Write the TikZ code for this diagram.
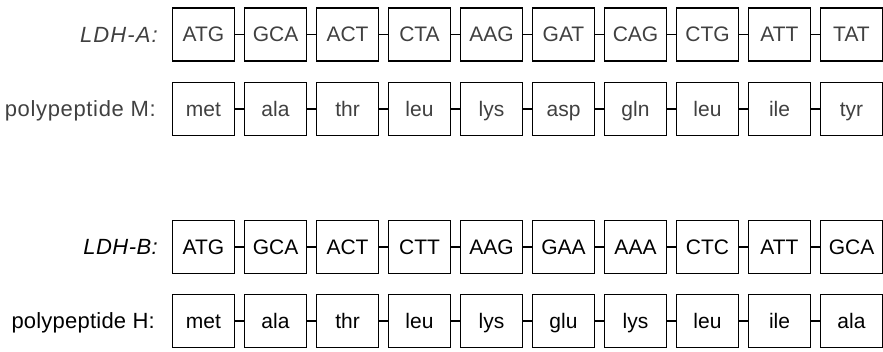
\documentclass[tikz,border=0pt]{standalone}
\usepackage{fontspec}
\setmainfont{Liberation Sans}
\newfontfamily\lblA[LetterSpace=5]{Liberation Sans}
\newfontfamily\lblM[LetterSpace=3]{Liberation Sans}
\newfontfamily\lblB[LetterSpace=2]{Liberation Sans}
\newfontfamily\lblH[LetterSpace=1]{Liberation Sans}
\begin{document}
\begin{tikzpicture}[x=1pt,y=-1pt,
  codon/.style={draw, line width=1.1pt, minimum width=62pt, minimum height=53pt,
    inner sep=0pt, text height=15pt, text depth=0pt, font=\fontsize{21}{25}\selectfont},
  lighttext/.style={text=black!75},
  lbl/.style={anchor=base east, inner sep=0pt},
  link/.style={line width=1.1pt}]
\useasboundingbox (0,0) rectangle (883,352);
% labels
\node[lbl, lighttext, font=\lblA\fontsize{22}{26}\selectfont] (la) at (158,43) {\itshape LDH-A:};
\node[lbl, lighttext, font=\lblM\fontsize{22}{26}\selectfont] (lm) at (156,117) {polypeptide M:};
\node[lbl, font=\lblB\fontsize{22}{26}\selectfont] (lb) at (158,255) {\itshape LDH-B:};
\node[lbl, font=\lblH\fontsize{22}{26}\selectfont] (lh) at (155,329) {polypeptide H:};
% rows
\foreach \t [count=\i] in {ATG,GCA,ACT,CTA,AAG,GAT,CAG,CTG,ATT,TAT}
  \node[codon, lighttext] (a\i) at ({203.5+72*(\i-1)},34.5) {\t};
\foreach \t [count=\i] in {met,ala,thr,leu,lys,asp,gln,leu,ile,tyr}
  \node[codon, lighttext] (m\i) at ({203.5+72*(\i-1)},109) {\t};
\foreach \t [count=\i] in {ATG,GCA,ACT,CTT,AAG,GAA,AAA,CTC,ATT,GCA}
  \node[codon] (b\i) at ({203.5+72*(\i-1)},247) {\t};
\foreach \t [count=\i] in {met,ala,thr,leu,lys,glu,lys,leu,ile,ala}
  \node[codon] (h\i) at ({203.5+72*(\i-1)},321) {\t};
% connectors
\foreach \i [evaluate=\i as \j using {int(\i+1)}] in {1,...,9} {
  \draw[link] (a\i) -- (a\j);
  \draw[link] (m\i) -- (m\j);
  \draw[link] (b\i) -- (b\j);
  \draw[link] (h\i) -- (h\j);
}
\end{tikzpicture}
\end{document}
